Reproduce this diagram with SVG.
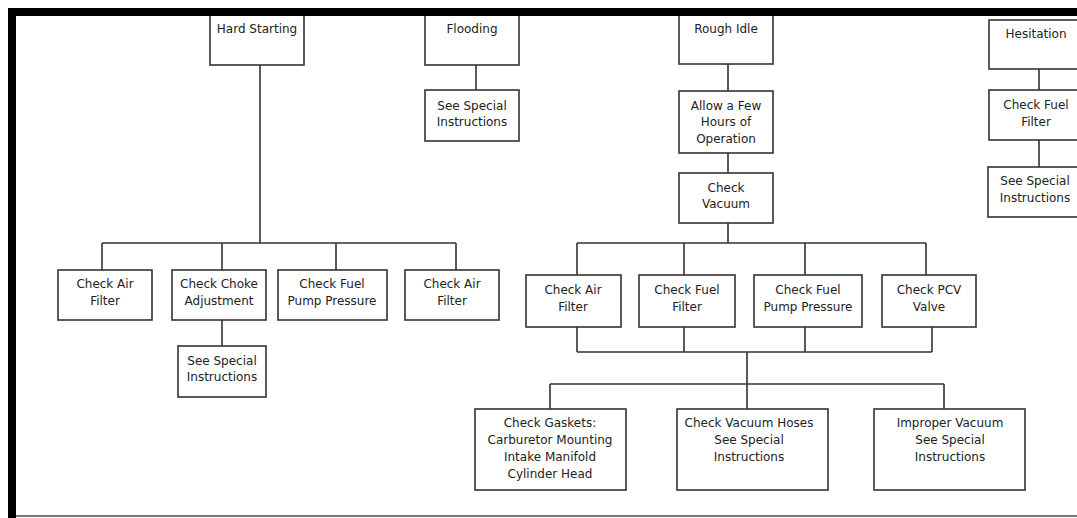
<svg xmlns="http://www.w3.org/2000/svg" width="1077" height="518" viewBox="0 0 1077 518">
<style>
.box{fill:#fff;stroke:#333;stroke-width:1.6}
.ln{fill:none;stroke:#333;stroke-width:1.6}
text{font-family:"DejaVu Sans",Verdana,sans-serif;font-size:12px;fill:#222;text-anchor:middle}
</style>
<rect x="0" y="0" width="1077" height="518" fill="#fff"/>
<g id="connectors" class="ln">
<path d="M260 65V243M102 243H456M102 243V270M222 243V270M336 243V270M456 243V270M222 320V346"/>
<path d="M476 65V90"/>
<path d="M728 64V91M728 153V173M728 223V243M577 243H926M577 243V275M684 243V275M805 243V275M926 243V275"/>
<path d="M577 327V352M684 327V352M805 327V352M932 327V352M577 352H932M747 352V384M550 384H944M550 384V409M747 384V409M944 384V409"/>
<path d="M1039 69V90M1039 140V167"/>
</g>
<g id="hard-starting"><rect class="box" x="210" y="14" width="94" height="51"/><text x="257" y="33">Hard Starting</text></g>
<g id="flooding"><rect class="box" x="425" y="14" width="94" height="51"/><text x="472" y="33">Flooding</text></g>
<g id="flooding-special"><rect class="box" x="425" y="90" width="94" height="51"/><text x="472" y="110">See Special</text><text x="472" y="126">Instructions</text></g>
<g id="rough-idle"><rect class="box" x="679" y="14" width="94" height="50"/><text x="726" y="33">Rough Idle</text></g>
<g id="allow-hours"><rect class="box" x="679" y="91" width="94" height="62"/><text x="726" y="110">Allow a Few</text><text x="726" y="126">Hours of</text><text x="726" y="143">Operation</text></g>
<g id="check-vacuum"><rect class="box" x="679" y="173" width="94" height="50"/><text x="726" y="192">Check</text><text x="726" y="208">Vacuum</text></g>
<g id="hesitation"><rect class="box" x="989" y="20" width="100" height="49"/><text x="1036" y="38">Hesitation</text></g>
<g id="hes-fuel-filter"><rect class="box" x="989" y="90" width="100" height="50"/><text x="1036" y="109">Check Fuel</text><text x="1036" y="126">Filter</text></g>
<g id="hes-special"><rect class="box" x="988" y="167" width="100" height="50"/><text x="1035" y="185">See Special</text><text x="1035" y="202">Instructions</text></g>
<g id="hs-air-filter-1"><rect class="box" x="58" y="270" width="94" height="50"/><text x="105" y="288">Check Air</text><text x="105" y="305">Filter</text></g>
<g id="hs-choke"><rect class="box" x="172" y="270" width="94" height="50"/><text x="219" y="288">Check Choke</text><text x="219" y="305">Adjustment</text></g>
<g id="hs-pump"><rect class="box" x="278" y="270" width="109" height="50"/><text x="332" y="288">Check Fuel</text><text x="332" y="305">Pump Pressure</text></g>
<g id="hs-air-filter-2"><rect class="box" x="405" y="270" width="94" height="50"/><text x="452" y="288">Check Air</text><text x="452" y="305">Filter</text></g>
<g id="choke-special"><rect class="box" x="178" y="346" width="88" height="51"/><text x="222" y="365">See Special</text><text x="222" y="381">Instructions</text></g>
<g id="ri-air-filter"><rect class="box" x="526" y="275" width="95" height="52"/><text x="573" y="294">Check Air</text><text x="573" y="311">Filter</text></g>
<g id="ri-fuel-filter"><rect class="box" x="639" y="275" width="96" height="52"/><text x="687" y="294">Check Fuel</text><text x="687" y="311">Filter</text></g>
<g id="ri-pump"><rect class="box" x="754" y="275" width="108" height="52"/><text x="808" y="294">Check Fuel</text><text x="808" y="311">Pump Pressure</text></g>
<g id="ri-pcv"><rect class="box" x="882" y="275" width="94" height="52"/><text x="929" y="294">Check PCV</text><text x="929" y="311">Valve</text></g>
<g id="gaskets"><rect class="box" x="475" y="409" width="151" height="81"/><text x="550" y="427">Check Gaskets:</text><text x="550" y="444">Carburetor Mounting</text><text x="550" y="461">Intake Manifold</text><text x="550" y="478">Cylinder Head</text></g>
<g id="vacuum-hoses"><rect class="box" x="677" y="409" width="151" height="81"/><text x="749" y="427">Check Vacuum Hoses</text><text x="749" y="444">See Special</text><text x="749" y="461">Instructions</text></g>
<g id="improper-vacuum"><rect class="box" x="874" y="409" width="151" height="81"/><text x="950" y="427">Improper Vacuum</text><text x="950" y="444">See Special</text><text x="950" y="461">Instructions</text></g>
<g id="frame">
<rect x="8" y="8" width="1069" height="8" fill="#000"/>
<rect x="8" y="8" width="8" height="510" fill="#000"/>
<rect x="16" y="515" width="1061" height="2" fill="#777"/>
</g>
</svg>
